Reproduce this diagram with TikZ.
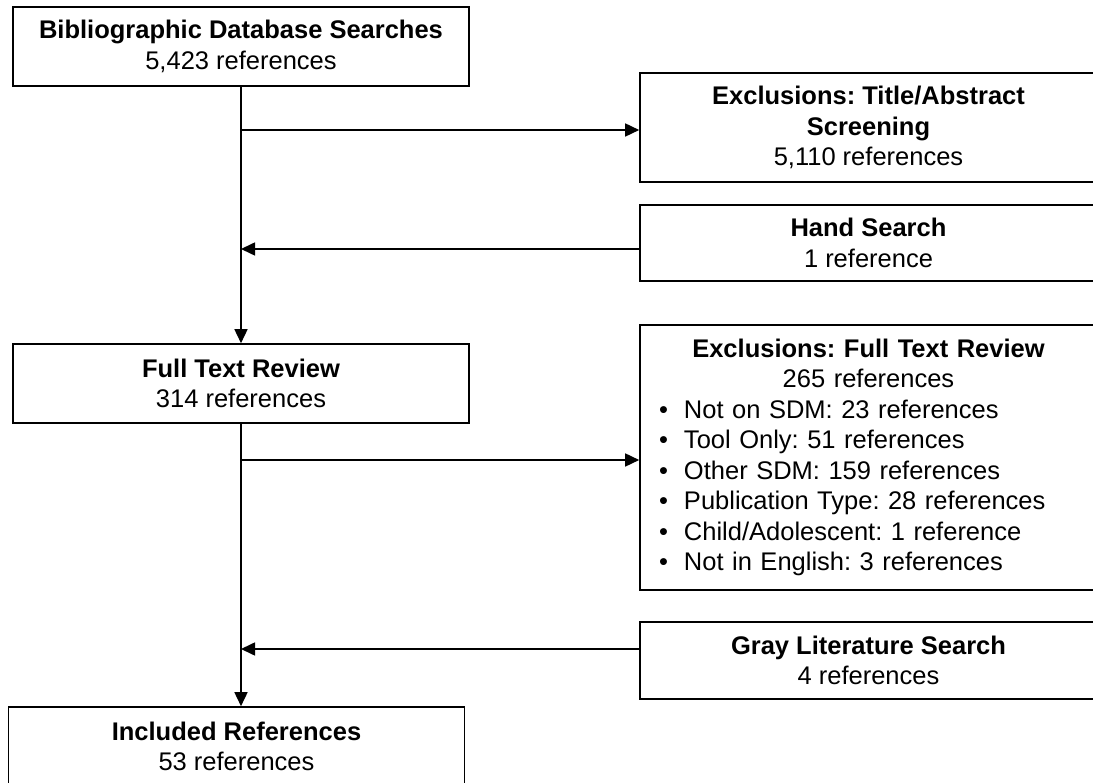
\documentclass[tikz,border=0pt]{standalone}
\usepackage{fontspec}
\setmainfont{Liberation Sans}
\usepackage{tikz}
\usetikzlibrary{arrows.meta}
\frenchspacing

\begin{document}
\begin{tikzpicture}[x=1pt,y=-1pt]
    \def\leftw{456pt}
    \def\rightw{457pt}
    \tikzstyle{box}=[rectangle, draw, line width=1.6pt, align=center, inner sep=0pt, font=\fontsize{25.5}{30.5}\selectfont]
    \tikzstyle{arrow}=[-{Triangle[length=14pt,width=13pt]}, line width=1.6pt]

    \useasboundingbox (0,0) rectangle (1093,783);
    \clip (0,0) rectangle (1093,783);

    % nodes
    \node (search) [box, minimum width=\leftw, minimum height=79pt] at (241,46.5) {\textbf{Bibliographic Database Searches}\\5,423 references};
    \node (screen) [box, minimum width=\rightw, minimum height=109pt] at (868.5,127.5) {\textbf{Exclusions: Title/Abstract}\\\textbf{Screening}\\5,110 references};
    \node (hand) [box, minimum width=\rightw, minimum height=76pt] at (868.5,243) {\textbf{Hand Search}\\1 reference};
    \node (full) [box, minimum width=\leftw, minimum height=79pt] at (241,383.5) {\textbf{Full Text Review}\\314 references};
    \node (fullexcl) [box, align=left, text width=419pt, inner xsep=19pt, minimum height=265pt] at (868.5,457.5) {%
        \makebox[\linewidth]{\textbf{Exclusions: Full Text Review}}\\
        \makebox[\linewidth]{265 references}\\
        \makebox[25pt][l]{\textbullet}Not on SDM: 23 references\\
        \makebox[25pt][l]{\textbullet}Tool Only: 51 references\\
        \makebox[25pt][l]{\textbullet}Other SDM: 159 references\\
        \makebox[25pt][l]{\textbullet}Publication Type: 28 references\\
        \makebox[25pt][l]{\textbullet}Child/Adolescent: 1 reference\\
        \makebox[25pt][l]{\textbullet}Not in English: 3 references};
    \node (gray) [box, minimum width=\rightw, minimum height=77pt] at (868.5,660.5) {\textbf{Gray Literature Search}\\4 references};
    \node (included) [box, minimum width=\leftw, minimum height=79pt] at (236.5,746.5) {\textbf{Included References}\\53 references};

    % arrows
    \draw[arrow] (search.south) -- (full.north);
    \draw[arrow] (full.south) -- (full.south |- included.north);
    \draw[arrow] ([yshift=-2.5pt]search.south |- screen.west) -- ([yshift=-2.5pt]screen.west);
    \draw[arrow] ([yshift=-6pt]hand.west) -- ([yshift=-6pt]search.south |- hand.west);
    \draw[arrow] ([yshift=-2.5pt]full.south |- fullexcl.west) -- ([yshift=-2.5pt]fullexcl.west);
    \draw[arrow] ([yshift=11.5pt]gray.west) -- ([yshift=11.5pt]full.south |- gray.west);
\end{tikzpicture}
\end{document}
